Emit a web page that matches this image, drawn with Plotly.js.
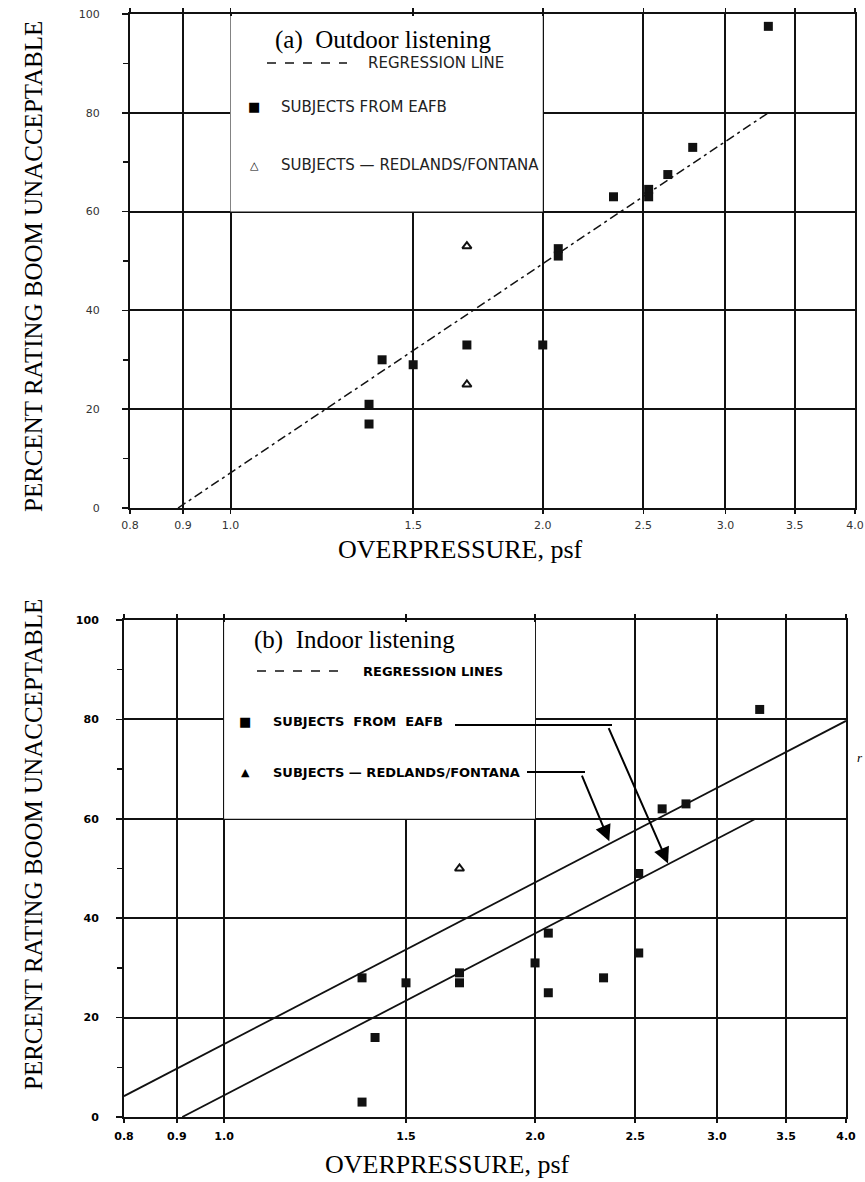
<!DOCTYPE html>
<html>
<head>
<meta charset="utf-8">
<script src="https://cdn.plot.ly/plotly-3.0.1.min.js"></script>
<style>html,body{margin:0;padding:0;background:#fff;}#chart{width:865px;height:1182px;}</style>
</head>
<body>
<div id="chart"></div>
<script>
// ---- data ----
const xTicks = [0.8, 0.9, 1.0, 1.5, 2.0, 2.5, 3.0, 3.5, 4.0];
const xTickText = ['0.8', '0.9', '1.0', '1.5', '2.0', '2.5', '3.0', '3.5', '4.0'];
const yTicks = [0, 20, 40, 60, 80, 100];
const yTickText = ['0', '20', '40', '60', '80', '100'];

// (a) Outdoor listening
const outdoorEafbX = [1.36, 1.36, 1.40, 1.50, 1.69, 2.00, 2.07, 2.07, 2.34, 2.53, 2.53, 2.64, 2.79, 3.30];
const outdoorEafbY = [21, 17, 30, 29, 33, 33, 52.5, 51, 63, 64.5, 63, 67.5, 73, 97.5];
const outdoorRedX = [1.69, 1.69];
const outdoorRedY = [53, 25];
const outdoorRegX = [0.89, 3.3];
const outdoorRegY = [0, 80];

// (b) Indoor listening
const indoorEafbX = [1.36, 1.36, 1.40, 1.50, 1.69, 1.69, 2.00, 2.06, 2.06, 2.33, 2.52, 2.52, 2.655, 2.80, 3.30];
const indoorEafbY = [28, 3, 16, 27, 29, 27, 31, 37, 25, 28, 33, 49, 62, 63, 82];
const indoorRedX = [1.69];
const indoorRedY = [50];
const indoorRegUpperX = [0.8, 4.0];
const indoorRegUpperY = [4.2, 79.7];
const indoorRegLowerX = [0.911, 3.27];
const indoorRegLowerY = [0, 60];
// arrow tips (on regression lines)
const arrowRedTip = [2.36, 55.5];
const arrowEafbTip = [2.69, 51.0];

const W = 865, H = 1182;
const px = v => v / W;
const py = v => 1 - v / H;

const serif = 'Liberation Serif, Times New Roman, serif';
const sans = 'DejaVu Sans, Liberation Sans, sans-serif';

const traces = [
  {x: outdoorRegX, y: outdoorRegY, xaxis: 'x', yaxis: 'y', mode: 'lines',
   line: {color: '#111', width: 1.5, dash: '9px,4px,3px,4px'}, hoverinfo: 'skip'},
  {x: outdoorEafbX, y: outdoorEafbY, xaxis: 'x', yaxis: 'y', mode: 'markers',
   marker: {symbol: 'square', size: 9, color: '#111'}},
  {x: outdoorRedX, y: outdoorRedY, xaxis: 'x', yaxis: 'y', mode: 'markers',
   marker: {symbol: 'triangle-up-open', size: 8, color: '#111', line: {width: 2}}},
  {x: indoorRegUpperX, y: indoorRegUpperY, xaxis: 'x2', yaxis: 'y2', mode: 'lines',
   line: {color: '#111', width: 1.8}},
  {x: indoorRegLowerX, y: indoorRegLowerY, xaxis: 'x2', yaxis: 'y2', mode: 'lines',
   line: {color: '#111', width: 1.8}},
  {x: indoorEafbX, y: indoorEafbY, xaxis: 'x2', yaxis: 'y2', mode: 'markers',
   marker: {symbol: 'square', size: 9, color: '#111'}},
  {x: indoorRedX, y: indoorRedY, xaxis: 'x2', yaxis: 'y2', mode: 'markers',
   marker: {symbol: 'triangle-up-open', size: 8, color: '#111', line: {width: 2}}}
];

function xAxis(domain, anchor, bold, standoff) {
  return {
    type: 'log', domain: domain, anchor: anchor,
    range: [Math.log10(0.8), Math.log10(4.0)],
    tickmode: 'array', tickvals: xTicks, ticktext: xTickText,
    showgrid: true, gridcolor: '#111', gridwidth: 2,
    showline: true, linecolor: '#111', linewidth: 2, mirror: 'ticks',
    ticks: 'outside', ticklen: 4, tickcolor: '#111', tickwidth: 1.5,
    zeroline: false, ticklabelstandoff: standoff,
    tickfont: {family: sans, size: 11, color: bold ? '#000' : '#333', weight: bold ? 'bold' : 'normal'}
  };
}
function yAxis(domain, anchor, bold, standoff) {
  return {
    domain: domain, anchor: anchor, range: [0, 100],
    tickmode: 'array', tickvals: yTicks, ticktext: yTickText,
    showgrid: true, gridcolor: '#111', gridwidth: 2,
    showline: true, linecolor: '#111', linewidth: 2, mirror: true,
    ticks: 'outside', ticklen: 6, tickcolor: '#111', tickwidth: 1.5,
    minor: {dtick: 10, ticks: 'outside', ticklen: 5, tickcolor: '#111', tickwidth: 1.5, showgrid: false},
    zeroline: false, ticklabelstandoff: standoff,
    tickfont: {family: sans, size: 11, color: bold ? '#000' : '#333', weight: bold ? 'bold' : 'normal'}
  };
}

const ann = (x, y, text, size, font, opts) => Object.assign({
  xref: 'paper', yref: 'paper', x: px(x), y: py(y), text: text, showarrow: false,
  xanchor: 'left', yanchor: 'middle', font: {family: font, size: size, color: '#000'}
}, opts || {});

const keyA = {family: sans, size: 15, color: '#222'};
const keyB = {family: sans, size: 13, color: '#000', weight: 'bold'};

const annotations = [
  // axis titles
  ann(33, 267, 'PERCENT RATING BOOM UNACCEPTABLE', 25, serif, {xanchor: 'center', textangle: -90}),
  ann(33, 845, 'PERCENT RATING BOOM UNACCEPTABLE', 25, serif, {xanchor: 'center', textangle: -90}),
  ann(460, 549, 'OVERPRESSURE, psf', 26, serif, {xanchor: 'center'}),
  ann(447, 1164, 'OVERPRESSURE, psf', 26, serif, {xanchor: 'center'}),
  // panel (a) key
  ann(273, 40, '(a)&nbsp;&nbsp;Outdoor listening', 25, serif),
  ann(366, 63, 'REGRESSION LINE', 15, sans, {font: keyA}),
  ann(254, 107, '■', 13, sans, {xanchor: 'center'}),
  ann(279, 107, 'SUBJECTS FROM EAFB', 15, sans, {font: keyA}),
  ann(254, 165, '△', 11, sans, {xanchor: 'center'}),
  ann(279, 165, 'SUBJECTS — REDLANDS/FONTANA', 15, sans, {font: keyA}),
  // panel (b) key
  ann(252, 640, '(b)&nbsp;&nbsp;Indoor listening', 25, serif),
  ann(361, 671, 'REGRESSION LINES', 13, sans, {font: keyB}),
  ann(245, 721, '■', 13, sans, {xanchor: 'center'}),
  ann(271, 721, 'SUBJECTS&nbsp;&nbsp;FROM&nbsp;&nbsp;EAFB', 13, sans, {font: keyB}),
  ann(245, 772, '▲', 11, sans, {xanchor: 'center'}),
  ann(271, 772, 'SUBJECTS — REDLANDS/FONTANA', 13, sans, {font: keyB}),
  ann(860, 757, '<i>r</i>', 13, serif, {xanchor: 'center'}),
  // arrows
  {xref: 'x2', yref: 'y2', x: Math.log10(arrowEafbTip[0]), y: arrowEafbTip[1], text: '',
   showarrow: true, ax: -60, ay: -137, arrowhead: 2, arrowsize: 1.6, arrowwidth: 2, arrowcolor: '#000', standoff: 0},
  {xref: 'x2', yref: 'y2', x: Math.log10(arrowRedTip[0]), y: arrowRedTip[1], text: '',
   showarrow: true, ax: -28, ay: -67, arrowhead: 2, arrowsize: 1.6, arrowwidth: 2, arrowcolor: '#000', standoff: 0}
];

const shapes = [
  // blank key areas
  {type: 'rect', xref: 'x', yref: 'y', x0: 1.0, x1: 2.0, y0: 60, y1: 99.6, fillcolor: '#fff', line: {width: 0}, layer: 'between'},
  {type: 'rect', xref: 'x2', yref: 'y2', x0: 1.0, x1: 2.0, y0: 60, y1: 99.6, fillcolor: '#fff', line: {width: 0}, layer: 'between'},
  // key dash samples
  {type: 'line', xref: 'paper', yref: 'paper', x0: px(267), x1: px(347), y0: py(63), y1: py(63), line: {color: '#111', width: 1.5, dash: 'dash'}},
  {type: 'line', xref: 'paper', yref: 'paper', x0: px(257), x1: px(342), y0: py(671), y1: py(671), line: {color: '#111', width: 1.5, dash: 'dash'}},
  // leader lines to arrows
  {type: 'line', xref: 'paper', yref: 'paper', x0: px(455), x1: px(612), y0: py(725), y1: py(725), line: {color: '#000', width: 2}},
  {type: 'line', xref: 'paper', yref: 'paper', x0: px(527), x1: px(585), y0: py(772), y1: py(772), line: {color: '#000', width: 2}}
];

const layout = {
  width: W, height: H,
  margin: {l: 0, r: 0, t: 0, b: 0},
  paper_bgcolor: '#fff', plot_bgcolor: '#fff',
  showlegend: false,
  xaxis: xAxis([130 / W, 855 / W], 'y', false, 2),
  yaxis: yAxis([1 - 508 / H, 1 - 14 / H], 'x', false, 20),
  xaxis2: xAxis([124 / W, 846 / W], 'y2', true, 4),
  yaxis2: yAxis([1 - 1117 / H, 1 - 620 / H], 'x2', true, 15),
  annotations: annotations,
  shapes: shapes
};

Plotly.newPlot('chart', traces, layout, {displayModeBar: false, staticPlot: true});
</script>
</body>
</html>
